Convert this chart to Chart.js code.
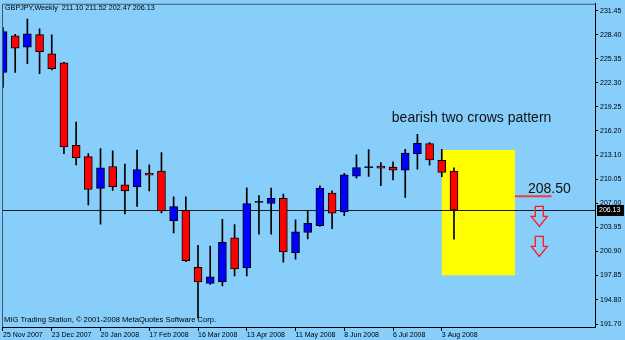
<!DOCTYPE html>
<html>
<head>
<meta charset="utf-8">
<script src="https://cdn.jsdelivr.net/npm/chart.js@4.4.0/dist/chart.umd.min.js"></script>
<style>
  html, body { margin: 0; padding: 0; background: #87cefa; }
  #wrap { width: 625px; height: 340px; }
</style>
</head>
<body>
<div id="wrap"><canvas id="chart" width="625" height="340"></canvas></div>
<script>
const symbolTitle = 'GBPJPY,Weekly'
const copyright = 'MIG Trading Station, \u00a9 2001-2008 MetaQuotes Software Corp.'

// weekly bars from 25 Nov 2007 to 10 Aug 2008
const opens = [223.63, 228.26, 226.82, 228.42, 225.99, 224.85, 214.38, 212.94, 208.90, 211.68, 209.37, 209.08, 210.84, 211.10, 204.79, 206.12, 198.89, 196.84, 197.04, 202.64, 198.81, 207.20, 207.01, 207.64, 200.75, 203.31, 204.19, 208.32, 205.92, 210.47, 211.60, 211.73, 211.60, 211.22, 213.32, 214.58, 212.48, 211.10]
const highs = [229.30, 228.46, 230.40, 229.14, 228.38, 224.90, 217.32, 213.32, 213.95, 213.66, 211.98, 213.75, 211.89, 213.44, 207.85, 207.85, 201.67, 201.58, 204.99, 204.32, 208.99, 207.98, 208.95, 208.19, 204.91, 206.00, 209.24, 208.61, 210.80, 213.15, 213.82, 212.18, 212.27, 213.87, 215.77, 214.71, 213.87, 211.52]
const lows = [221.73, 223.63, 224.72, 223.46, 223.95, 213.32, 211.89, 206.81, 204.36, 208.65, 205.67, 206.63, 208.57, 205.80, 203.27, 199.61, 192.46, 196.71, 196.54, 197.80, 197.80, 203.10, 203.10, 199.56, 199.94, 202.49, 204.07, 203.78, 205.46, 210.21, 210.42, 209.24, 209.99, 207.77, 211.35, 211.85, 210.38, 202.47]
const closes = [228.80, 226.69, 228.51, 226.24, 224.09, 214.16, 212.81, 208.77, 211.51, 209.12, 208.57, 211.30, 210.59, 206.05, 206.59, 199.74, 197.04, 197.67, 202.05, 198.68, 206.97, 207.20, 207.64, 200.83, 203.40, 204.48, 208.95, 205.75, 210.63, 211.55, 211.60, 211.48, 211.22, 213.37, 214.63, 212.52, 210.92, 206.13]

const dateTicks = [0, 4, 8, 12, 16, 20, 24, 28, 32, 36]
const dateLabels = ['25 Nov 2007', '23 Dec 2007', '20 Jan 2008', '17 Feb 2008', '16 Mar 2008', '13 Apr 2008', '11 May 2008', '8 Jun 2008', '6 Jul 2008', '3 Aug 2008']
const priceTicks = [231.45, 228.40, 225.35, 222.30, 219.25, 216.20, 213.10, 210.05, 207.00, 203.95, 200.90, 197.85, 194.80, 191.70]

const xMin = -0.082
const xMax = 48.57
const yMin = 191.32
const yMax = 232.33

// drawn objects, in bar index / price units
const patternText = 'bearish two crows pattern'
const patternTextAt = [31.9, 217.36]
const patternBox = [36.0, 42.0, 197.88, 213.78]
const levelText = '208.50'
const levelLine = [42.0, 45.0, 207.9]
const arrowX = [44, 44]
const arrowTops = [206.63, 202.81]
const arrowTips = [204.07, 200.28]

const font = '"Liberation Sans", Arial, sans-serif'
const bgColour = '#87cefa'

const bodyColours = opens.map((o, i) => closes[i] > o ? '#0000ff' : (closes[i] < o ? '#ff0000' : '#000000'))
const bodies = opens.map((o, i) => {
  const lo = Math.min(o, closes[i])
  const hi = Math.max(o, closes[i])
  return hi - lo < 0.1 ? { x: i, y: [lo - 0.06, hi + 0.06] } : { x: i, y: [lo, hi] }
})
const wicks = lows.map((l, i) => ({ x: i, y: [l, highs[i]] }))

const overlay = {
  id: 'overlay',
  beforeDraw (chart) {
    const c = chart.ctx
    c.save()
    c.fillStyle = bgColour
    c.fillRect(0, 0, chart.width, chart.height)
    c.restore()
  },
  beforeDatasetsDraw (chart) {
    const c = chart.ctx
    const xs = chart.scales.x
    const ys = chart.scales.y
    const area = chart.chartArea
    c.save()
    // yellow pattern box
    const bx0 = xs.getPixelForValue(patternBox[0])
    const bx1 = xs.getPixelForValue(patternBox[1])
    const by0 = ys.getPixelForValue(patternBox[3])
    const by1 = ys.getPixelForValue(patternBox[2])
    c.fillStyle = '#ffff00'
    c.fillRect(bx0, by0, bx1 - bx0, by1 - by0)
    // current price line
    const py = Math.round(ys.getPixelForValue(closes[closes.length - 1])) + 0.5
    c.strokeStyle = '#1a1a1a'
    c.lineWidth = 1
    c.beginPath()
    c.moveTo(area.left, py)
    c.lineTo(area.right, py)
    c.stroke()
    c.restore()
  },
  afterDatasetsDraw (chart) {
    const c = chart.ctx
    const xs = chart.scales.x
    const ys = chart.scales.y
    c.save()
    // level marker
    const ly = ys.getPixelForValue(levelLine[2])
    c.strokeStyle = '#f03c3c'
    c.lineWidth = 2
    c.beginPath()
    c.moveTo(xs.getPixelForValue(levelLine[0]), ly)
    c.lineTo(xs.getPixelForValue(levelLine[1]), ly)
    c.stroke()
    c.fillStyle = '#111'
    c.font = '14px ' + font
    c.textBaseline = 'alphabetic'
    c.textAlign = 'left'
    c.fillText(levelText, xs.getPixelForValue(43.07), ly - 3)
    c.fillText(patternText, xs.getPixelForValue(patternTextAt[0]), ys.getPixelForValue(patternTextAt[1]))
    // down arrows
    c.strokeStyle = '#ff1a1a'
    c.lineWidth = 1.3
    arrowX.forEach((ax, i) => {
      const cx = xs.getPixelForValue(ax)
      const top = ys.getPixelForValue(arrowTops[i])
      const tip = ys.getPixelForValue(arrowTips[i])
      const neck = top + (tip - top) * 0.5
      c.beginPath()
      c.moveTo(cx - 4, top)
      c.lineTo(cx + 4, top)
      c.lineTo(cx + 4, neck)
      c.lineTo(cx + 8, neck)
      c.lineTo(cx, tip)
      c.lineTo(cx - 8, neck)
      c.lineTo(cx - 4, neck)
      c.closePath()
      c.stroke()
    })
    c.restore()
  },
  afterDraw (chart) {
    const c = chart.ctx
    const area = chart.chartArea
    const ys = chart.scales.y
    c.save()
    // frame on top and left
    c.strokeStyle = '#3c5a6c'
    c.lineWidth = 1
    c.beginPath()
    c.moveTo(area.left + 0.5, area.bottom)
    c.lineTo(area.left + 0.5, area.top + 0.5)
    c.lineTo(area.right, area.top + 0.5)
    c.stroke()
    // last price tag
    const last = closes[closes.length - 1]
    const py = Math.round(ys.getPixelForValue(last))
    c.fillStyle = '#000'
    c.fillRect(area.right + 2, py - 5, 27, 11)
    c.fillStyle = '#fff'
    c.font = '7px ' + font
    c.textBaseline = 'middle'
    c.textAlign = 'left'
    c.fillText(last.toFixed(2), area.right + 4, py + 0.5)
    // title and copyright
    c.fillStyle = '#000'
    c.font = '7.2px ' + font
    c.fillText(symbolTitle + '  ' + [opens, highs, lows, closes].map(a => a[a.length - 1].toFixed(2)).join(' '), 5, 8)
    c.font = '7.6px ' + font
    c.fillText(copyright, 4, 320)
    c.restore()
  }
}

const ctx = document.getElementById('chart')
const chart = new Chart(ctx, {
  type: 'bar',
  data: {
    datasets: [
      {
        label: 'bodies',
        data: bodies,
        backgroundColor: bodyColours,
        borderColor: '#000',
        borderWidth: 1,
        borderSkipped: false,
        barThickness: 8,
        grouped: false,
        order: 0
      },
      {
        label: 'wicks',
        data: wicks,
        backgroundColor: '#000',
        borderWidth: 0,
        barThickness: 1,
        grouped: false,
        order: 1
      }
    ]
  },
  options: {
    responsive: false,
    animation: false,
    layout: { padding: { left: 2, top: 2, right: 0, bottom: 0 } },
    plugins: {
      legend: { display: false },
      tooltip: { enabled: false }
    },
    scales: {
      x: {
        type: 'linear',
        min: xMin,
        max: xMax,
        offset: false,
        grid: { display: true, offset: false, drawOnChartArea: false, drawTicks: true, tickLength: 4, color: '#000' },
        border: { display: true, color: '#000' },
        afterBuildTicks: s => { s.ticks = dateTicks.map(v => ({ value: v })) },
        afterFit: s => { s.height = 13 },
        ticks: {
          autoSkip: false,
          maxRotation: 0,
          minRotation: 0,
          align: 'start',
          padding: 0,
          color: '#000',
          font: { family: font, size: 7 },
          callback: v => dateLabels[dateTicks.indexOf(v)]
        }
      },
      y: {
        position: 'right',
        min: yMin,
        max: yMax,
        grid: { display: true, drawOnChartArea: false, drawTicks: true, tickLength: 3, color: '#000' },
        border: { display: true, color: '#000' },
        afterBuildTicks: s => { s.ticks = priceTicks.map(v => ({ value: v })) },
        afterFit: s => { s.width = 30 },
        ticks: {
          padding: 2,
          color: '#000',
          font: { family: font, size: 7, lineHeight: 0.5 },
          callback: v => v.toFixed(2)
        }
      }
    }
  },
  plugins: [overlay]
})
</script>
</body>
</html>
